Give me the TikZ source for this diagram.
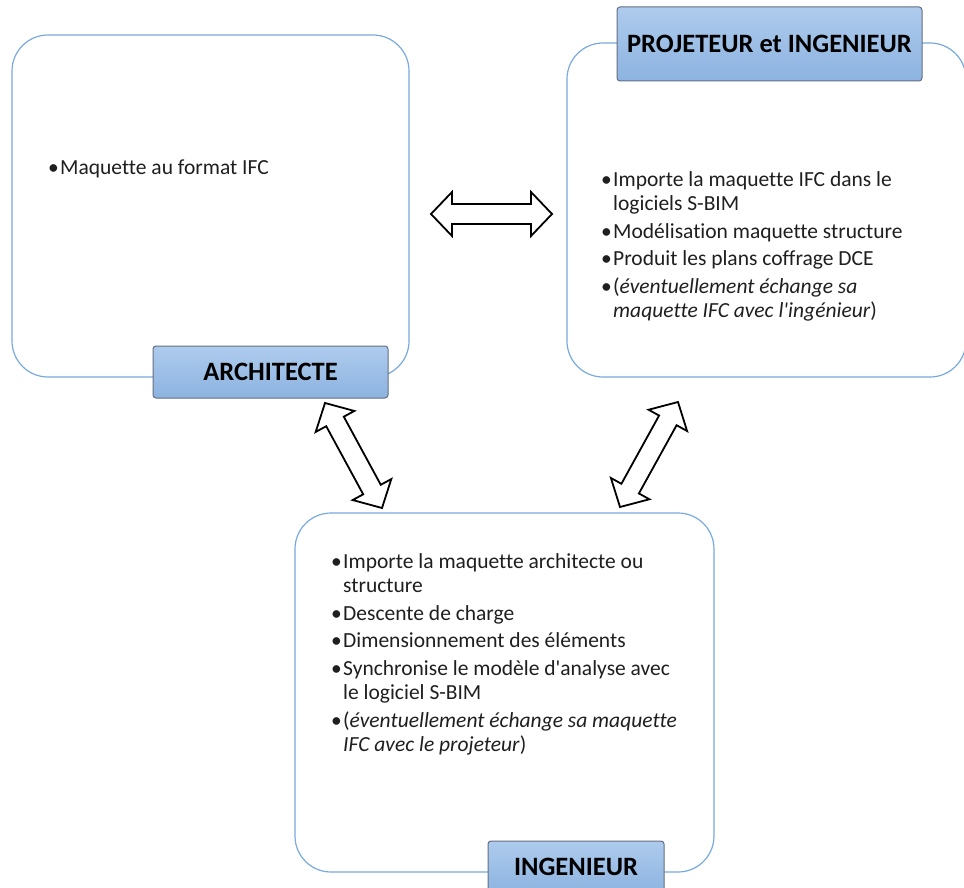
\documentclass[tikz,border=0pt]{standalone}
\usepackage{fontspec}
\setmainfont{Carlito}[Ligatures={TeX,NoCommon}]
\usetikzlibrary{calc}
\definecolor{boxline}{RGB}{120,170,222}
\definecolor{labtop}{RGB}{174,203,237}
\definecolor{labbot}{RGB}{140,179,224}
\definecolor{labline}{RGB}{100,110,130}
\newcommand{\bul}{\makebox[12pt][l]{\textbullet}}
\newcommand{\ind}{\hspace*{12pt}}
\newcommand{\fatarrow}[2]{%
  \coordinate (h1) at ($(#1)!21pt!(#2)$);
  \coordinate (h2) at ($(#2)!21pt!(#1)$);
  \draw[dblarrow] (#1) -- ($(h1)!22pt!90:(#2)$) -- ($(h1)!10pt!90:(#2)$)
    -- ($(h2)!10pt!-90:(#1)$) -- ($(h2)!22pt!-90:(#1)$) -- (#2)
    -- ($(h2)!22pt!90:(#1)$) -- ($(h2)!10pt!90:(#1)$)
    -- ($(h1)!10pt!-90:(#2)$) -- ($(h1)!22pt!-90:(#2)$) -- cycle;}
\begin{document}
\begin{tikzpicture}[x=1pt,y=-1pt,
  bigbox/.style={draw=boxline, line width=1.2pt, rounded corners=36pt, fill=white, inner sep=0pt},
  labelbox/.style={draw=labline, line width=1pt, rounded corners=3pt, top color=labtop, bottom color=labbot,
    font=\fontsize{26.5}{30}\selectfont\bfseries, text=black, inner sep=0pt},
  blist/.style={anchor=north west, align=left, inner sep=0pt, font=\fontsize{21.5}{24.2}\selectfont, text=black!88},
  dblarrow/.style={draw=black, line width=1.8pt, fill=white, line join=miter}]
\useasboundingbox (0,0) rectangle (964,888);
\clip (0,0) rectangle (964,888);

% big boxes
\node[bigbox, minimum width=397, minimum height=342] (arch) at (210.5,206) {};
\node[bigbox, minimum width=399, minimum height=334] (proj) at (766.5,210) {};
\node[bigbox, minimum width=419, minimum height=359] (ing) at (504.5,692.5) {};

% labels
\node[labelbox, minimum width=235, minimum height=52] (archlab) at (270.5,372) {ARCHITECTE};
\node[labelbox, minimum width=305, minimum height=74] (projlab) at (769.5,44) {PROJETEUR et INGENIEUR};
\node[labelbox, minimum width=176, minimum height=52] (inglab) at (576,867) {INGENIEUR};

% texts
\node[blist] (archtxt) at (48,160) {\bul Maquette au format IFC};
\node[blist] (projtxt) at (601,171) {\bul Importe la maquette IFC dans le\\
\ind logiciels S-BIM\\[3.5pt]
\bul Modélisation maquette structure\\[3.5pt]
\bul Produit les plans coffrage DCE\\[3.5pt]
\bul (\textit{éventuellement échange sa}\\
\ind \textit{maquette IFC avec l\textquotesingle ingénieur})};
\node[blist] (ingtxt) at (331,553) {\bul Importe la maquette architecte ou\\
\ind structure\\[3.5pt]
\bul Descente de charge\\[3.5pt]
\bul Dimensionnement des éléments\\[3.5pt]
\bul Synchronise le modèle d\textquotesingle analyse avec\\
\ind le logiciel S-BIM\\[3.5pt]
\bul (\textit{éventuellement échange sa maquette}\\
\ind \textit{IFC avec le projeteur})};

% arrows
\coordinate (ap1) at (431,214);
\coordinate (ap2) at (552,214);
\coordinate (ai1) at (325,403);
\coordinate (ai2) at (382,508);
\coordinate (pi1) at (678,402);
\coordinate (pi2) at (620,507);
\fatarrow{ap1}{ap2}
\fatarrow{ai1}{ai2}
\fatarrow{pi1}{pi2}
\end{tikzpicture}
\end{document}
